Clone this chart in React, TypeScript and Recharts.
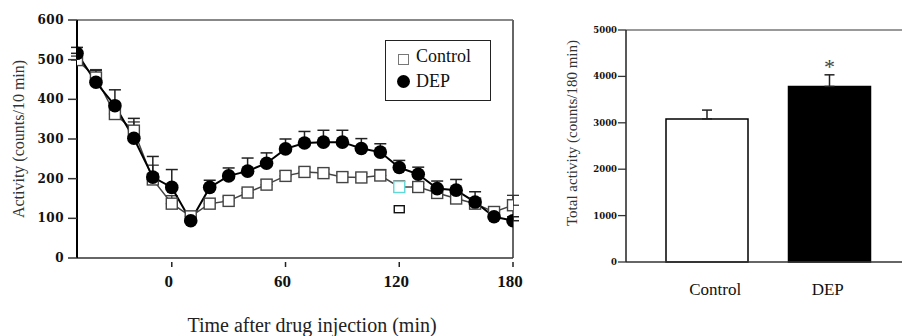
import React from 'react';
import {
  ComposedChart,
  Line,
  XAxis,
  YAxis,
  ErrorBar,
  ReferenceLine,
  Scatter,
  BarChart,
  Bar,
  Cell,
  LabelList,
} from 'recharts';

// ---- Time course (left panel) ----
const times = [-50, -40, -30, -20, -10, 0, 10, 20, 30, 40, 50, 60, 70, 80, 90, 100, 110, 120, 130, 140, 150, 160, 170, 180];
const controlActivity = [499, 455, 363, 321, 198, 137, 105, 137, 144, 165, 185, 207, 217, 214, 204, 203, 208, 179, 179, 164, 150, 137, 116, 133];
const controlError = [10, 20, 15, 22, 36, 20, 10, 10, 10, 10, 12, 12, 10, 10, 10, 10, 15, 15, 10, 12, 10, 10, 13, 25];
const depActivity = [516, 443, 384, 302, 204, 178, 94, 178, 207, 219, 239, 275, 290, 292, 292, 276, 267, 228, 211, 175, 171, 141, 104, 94];
const depError = [15, 30, 40, 50, 52, 45, 0, 18, 20, 33, 26, 25, 29, 30, 30, 25, 21, 18, 18, 19, 27, 26, 12, 10];
const strayTimes = [120];
const strayValues = [123];
const leftYTicks = [0, 100, 200, 300, 400, 500, 600];
const leftXTicks = [0, 60, 120, 180];

// ---- Totals (right panel) ----
const groups = ['Control', 'DEP'];
const totals = [3084, 3784];
const totalErrors = [190, 250];
const sigMarks = ['', '*'];
const rightYTicks = [0, 1000, 2000, 3000, 4000, 5000];

const lineData = times.map((t, i) => ({
  t,
  control: controlActivity[i],
  controlErr: [0, controlError[i]],
  dep: depActivity[i],
  depErr: [0, depError[i]],
}));
const strayData = strayTimes.map((t, i) => ({ t, stray: strayValues[i] }));
const barData = groups.map((g, i) => ({
  group: g,
  total: totals[i],
  err: [0, totalErrors[i]],
  mark: sigMarks[i],
}));

const SERIF = '"Liberation Serif", "Times New Roman", serif';
const TICKSERIF = '"DejaVu Serif", serif';

const ControlDot = (props: any) => {
  const { cx, cy, index } = props;
  if (cx == null || cy == null) return null;
  const cyan = times[index] === 120;
  return (
    <rect
      key={`c-${index}`}
      x={cx - 5.5}
      y={cy - 5.5}
      width={11}
      height={11}
      fill="#fff"
      stroke={cyan ? '#5fd8d8' : '#444'}
      strokeWidth={1.4}
    />
  );
};

const DepDot = (props: any) => {
  const { cx, cy, index } = props;
  if (cx == null || cy == null) return null;
  return <circle key={`d-${index}`} cx={cx} cy={cy} r={6.8} fill="#000" />;
};

const StrayShape = (props: any) => {
  const { cx, cy } = props;
  return <rect x={cx - 5} y={cy - 3.5} width={10} height={7} fill="#fff" stroke="#111" strokeWidth={1.4} />;
};

const LeftXTick = (props: any) => {
  const { x, y, payload } = props;
  return (
    <g>
      <line x1={x} x2={x} y1={y + 4} y2={y + 9} stroke="#222" strokeWidth={1.5} />
      <text x={x - 3} y={y + 29} textAnchor="middle" style={{ fontSize: 17, fontWeight: 'bold', fontFamily: SERIF }} fill="#111">
        {payload.value}
      </text>
    </g>
  );
};

const LeftYTick = (props: any) => {
  const { x, y, payload } = props;
  return (
    <text x={x} y={y + 4} textAnchor="end" style={{ fontSize: 12, fontWeight: 'bold', fontFamily: TICKSERIF, letterSpacing: 0.5 }} fill="#111">
      {payload.value}
    </text>
  );
};

const RightYTick = (props: any) => {
  const { x, y, payload } = props;
  return (
    <text x={x} y={y + 3} textAnchor="end" style={{ fontSize: 8.5, fontWeight: 'bold', fontFamily: TICKSERIF }} fill="#111">
      {payload.value}
    </text>
  );
};

const GroupTick = (props: any) => {
  const { x, y, payload } = props;
  const shift = payload.value === 'Control' ? 8 : -2;
  return (
    <text x={x + shift} y={y + 13} textAnchor="middle" style={{ fontSize: 17, fontFamily: SERIF }} fill="#111">
      {payload.value}
    </text>
  );
};

export default function App() {
  return (
    <div
      style={{
        position: 'absolute',
        left: 0,
        top: 0,
        width: 902,
        height: 336,
        background: '#fff',
        fontFamily: SERIF,
        overflow: 'hidden',
      }}
    >
      <div style={{ position: 'absolute', left: 0, top: 0 }}>
        <ComposedChart width={540} height={336} data={lineData} margin={{ top: 20, right: 27, left: 0, bottom: 38 }}>
          <XAxis
            dataKey="t"
            type="number"
            domain={[-50, 180]}
            ticks={leftXTicks}
            height={40}
            tickSize={0}
            tickMargin={0}
            tick={<LeftXTick />}
            axisLine={{ stroke: '#333', strokeWidth: 1.5 }}
            allowDataOverflow
          />
          <YAxis
            type="number"
            domain={[0, 600]}
            ticks={leftYTicks}
            width={77}
            tickSize={9}
            tickMargin={4}
            tickLine={{ stroke: '#333', strokeWidth: 1.5 }}
            axisLine={{ stroke: '#000', strokeWidth: 2 }}
            tick={<LeftYTick />}
          />
          <ReferenceLine y={600} stroke="#888" strokeWidth={2} />
          <ReferenceLine x={180} stroke="#666" strokeWidth={2} />
          <Line
            dataKey="control"
            stroke="#444"
            strokeWidth={1.5}
            dot={<ControlDot />}
            activeDot={false}
            isAnimationActive={false}
          >
            <ErrorBar dataKey="controlErr" direction="y" width={6} stroke="#333" strokeWidth={1.3} />
          </Line>
          <Line
            dataKey="dep"
            stroke="#000"
            strokeWidth={2}
            dot={<DepDot />}
            activeDot={false}
            isAnimationActive={false}
          >
            <ErrorBar dataKey="depErr" direction="y" width={6} stroke="#222" strokeWidth={1.5} />
          </Line>
          <Scatter data={strayData} dataKey="stray" shape={<StrayShape />} isAnimationActive={false} />
        </ComposedChart>
      </div>

      {/* legend */}
      <div
        style={{
          position: 'absolute',
          left: 385,
          top: 40,
          width: 104,
          height: 59,
          border: '1.5px solid #222',
          background: '#fff',
          fontSize: 18,
          color: '#111',
        }}
      >
        <div style={{ position: 'absolute', left: 12, top: 13, width: 9, height: 9, border: '1px solid #777' }} />
        <div style={{ position: 'absolute', left: 30, top: 5, lineHeight: '20px' }}>Control</div>
        <div style={{ position: 'absolute', left: 11, top: 34, width: 13, height: 13, borderRadius: '50%', background: '#000' }} />
        <div style={{ position: 'absolute', left: 30, top: 30, lineHeight: '20px' }}>DEP</div>
      </div>

      <div
        style={{
          position: 'absolute',
          left: 19,
          top: 139,
          transform: 'translate(-50%, -50%) rotate(-90deg)',
          whiteSpace: 'nowrap',
          fontSize: 16,
          color: '#333',
        }}
      >
        Activity (counts/10 min)
      </div>
      <div
        style={{
          position: 'absolute',
          left: 312,
          top: 325,
          transform: 'translate(-50%, -50%)',
          whiteSpace: 'nowrap',
          fontSize: 20,
          lineHeight: '22px',
          color: '#222',
        }}
      >
        Time after drug injection (min)
      </div>

      <div style={{ position: 'absolute', left: 540, top: 0 }}>
        <BarChart width={362} height={336} data={barData} margin={{ top: 30, right: 0, left: 0, bottom: 34 }}>
          <XAxis
            dataKey="group"
            height={40}
            padding={{ left: 20, right: 11 }}
            tickLine={false}
            tickSize={0}
            tickMargin={20}
            axisLine={{ stroke: '#333', strokeWidth: 1.5 }}
            tick={<GroupTick />}
          />
          <YAxis
            type="number"
            domain={[0, 5000]}
            ticks={rightYTicks}
            width={86}
            tickSize={8}
            tickMargin={1}
            tickLine={{ stroke: '#333', strokeWidth: 1.3 }}
            axisLine={{ stroke: '#222', strokeWidth: 1.5 }}
            tick={<RightYTick />}
          />
          <ReferenceLine y={5000} stroke="#999" strokeWidth={2} />
          <Bar dataKey="total" barSize={82} stroke="#000" strokeWidth={1.5} isAnimationActive={false}>
            {barData.map((d, i) => (
              <Cell key={d.group} fill={i === 0 ? '#fff' : '#000'} />
            ))}
            <ErrorBar dataKey="err" direction="y" width={5} stroke="#222" strokeWidth={1.5} />
            <LabelList dataKey="mark" position="top" offset={12} fontSize={22} fill="#444" fontFamily={SERIF} />
          </Bar>
        </BarChart>
      </div>

      <div
        style={{
          position: 'absolute',
          left: 572,
          top: 133,
          transform: 'translate(-50%, -50%) rotate(-90deg)',
          whiteSpace: 'nowrap',
          fontSize: 15,
          color: '#333',
        }}
      >
        Total activity (counts/180 min)
      </div>
    </div>
  );
}
